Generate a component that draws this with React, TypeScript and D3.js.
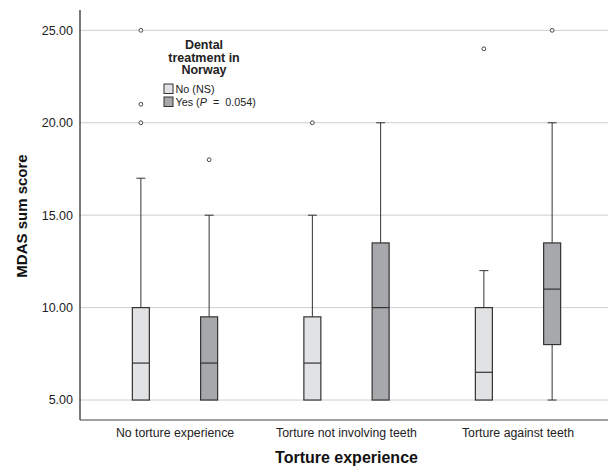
import React from "react";
import * as d3 from "d3";

const categories = ["No torture experience", "Torture not involving teeth", "Torture against teeth"];
const groups = ["No", "Yes"];
const groupLabels = ["No (NS)", "Yes"];
// [min, q1, median, q3, max] per category for each group
const noStats = [
  [5, 5, 7, 10, 17],
  [5, 5, 7, 9.5, 15],
  [5, 5, 6.5, 10, 12],
];
const yesStats = [
  [5, 5, 7, 9.5, 15],
  [5, 5, 10, 13.5, 20],
  [5, 8, 11, 13.5, 20],
];
const noOutliers = [[25, 21, 20], [20], [24]];
const yesOutliers = [[18], [], [25]];
const yTicks = [5, 10, 15, 20, 25];
const fills = ["#e1e2e4", "#a7a8ab"];

const W = 609;
const H = 466;

export default function App() {
  const y = d3.scaleLinear().domain([3.92, 26.1]).range([420, 10]);
  const x = d3.scaleBand<string>().domain(categories).range([89.25, 603.75]);
  const sub = d3.scaleBand<string>().domain(groups).range([-57, 57]).paddingInner(0.33);
  const bw = 17;
  const font = "'Liberation Sans', Arial, sans-serif";
  const stroke = "#333";

  const renderBox = (stats: number[], outs: number[], ci: number, gi: number) => {
    const cx = (x(categories[ci]) as number) + x.bandwidth() / 2 + (sub(groups[gi]) as number) + sub.bandwidth() / 2;
    const [mn, q1, md, q3, mx] = stats;
    const capW = 9;
    return (
      <g key={`${ci}-${gi}`}>
        {mx > q3 && (
          <>
            <line x1={cx} x2={cx} y1={y(q3)} y2={y(mx)} stroke={stroke} strokeWidth={1} />
            <line x1={cx - capW / 2} x2={cx + capW / 2} y1={y(mx)} y2={y(mx)} stroke={stroke} strokeWidth={1} />
          </>
        )}
        {mn < q1 && (
          <>
            <line x1={cx} x2={cx} y1={y(q1)} y2={y(mn)} stroke={stroke} strokeWidth={1} />
            <line x1={cx - capW / 2} x2={cx + capW / 2} y1={y(mn)} y2={y(mn)} stroke={stroke} strokeWidth={1} />
          </>
        )}
        <rect x={cx - bw / 2} y={y(q3)} width={bw} height={y(q1) - y(q3)} fill={fills[gi]} stroke={stroke} strokeWidth={1.2} />
        <line x1={cx - bw / 2} x2={cx + bw / 2} y1={y(md)} y2={y(md)} stroke={stroke} strokeWidth={1.2} />
        {outs.map((o, k) => (
          <circle key={k} cx={cx} cy={y(o)} r={1.9} fill="white" stroke={stroke} strokeWidth={0.9} />
        ))}
      </g>
    );
  };

  return (
    <svg width={W} height={H} style={{ position: "absolute", left: 0, top: 0 }} fontFamily={font}>
      <rect width={W} height={H} fill="white" />
      {yTicks.map((t) => (
        <g key={t}>
          <line x1={80} x2={608} y1={y(t)} y2={y(t)} stroke="#cfcfcf" strokeWidth={1} />
          <text x={73} y={y(t)} dy="0.35em" textAnchor="end" fontSize={12.5} fill="#222">
            {t.toFixed(2)}
          </text>
        </g>
      ))}
      <line x1={80} x2={80} y1={10} y2={420} stroke="#222" strokeWidth={1.2} />
      <line x1={80} x2={608} y1={420} y2={420} stroke="#444" strokeWidth={1.2} />
      {categories.map((c, ci) => (
        <g key={c}>
          {renderBox(noStats[ci], noOutliers[ci], ci, 0)}
          {renderBox(yesStats[ci], yesOutliers[ci], ci, 1)}
          <text x={(x(c) as number) + x.bandwidth() / 2} y={437} textAnchor="middle" fontSize={12.3} fill="#222">
            {c}
          </text>
        </g>
      ))}
      <text x={346.5} y={463} textAnchor="middle" fontSize={16} fontWeight="bold" fill="#111">
        Torture experience
      </text>
      <text transform="translate(27,216) rotate(-90)" textAnchor="middle" fontSize={15} fontWeight="bold" fill="#111">
        MDAS sum score
      </text>
      <g>
        {["Dental", "treatment in", "Norway"].map((l, i) => (
          <text key={l} x={204} y={49 + i * 12.7} textAnchor="middle" fontSize={12.5} fontWeight="bold" fill="#222">
            {l}
          </text>
        ))}
        {groupLabels.map((l, i) => (
          <g key={l}>
            <rect x={164} y={84 + i * 13} width={9} height={9.5} fill={fills[i]} stroke={stroke} strokeWidth={1} />
            <text x={175.5} y={93 + i * 13} fontSize={10.8} fill="#222">
              {l}
              {i === 1 && (
                <>
                  {" ("}
                  <tspan fontStyle="italic">P</tspan>
                  {"\u00a0\u00a0=\u00a0\u00a00.054)"}
                </>
              )}
            </text>
          </g>
        ))}
      </g>
    </svg>
  );
}
